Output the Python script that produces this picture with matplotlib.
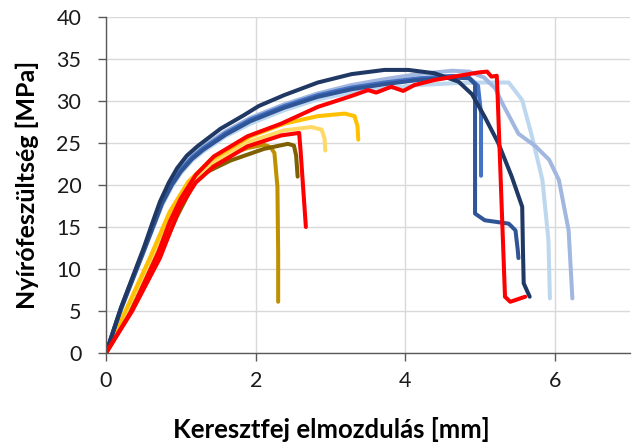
import matplotlib
matplotlib.use("Agg")
import matplotlib.pyplot as plt

# ---- data (displacement mm, shear stress MPa) ----
navy_x = [0, 0.2, 0.5, 0.62, 0.72, 0.84, 0.95, 1.08, 1.22, 1.53, 1.84, 2.04, 2.38, 2.83,
          3.28, 3.72, 4.04, 4.39, 4.71, 4.89, 5.06, 5.24, 5.42, 5.56, 5.57, 5.58, 5.66]
navy_y = [0, 5.4, 12.4, 15.5, 18.0, 20.3, 22.0, 23.5, 24.6, 26.7, 28.3, 29.4, 30.7, 32.2,
          33.2, 33.7, 33.7, 33.3, 32.3, 30.8, 28.1, 25.0, 21.0, 17.4, 12.3, 8.3, 6.7]

b2_x = [0, 0.2, 0.5, 0.75, 0.88, 1.0, 1.15, 1.3, 1.6, 1.93, 2.38, 2.83, 3.28, 3.72, 4.17,
        4.62, 4.85, 4.93, 4.93, 5.06, 5.38, 5.47, 5.50, 5.51]
b2_y = [0, 5.2, 12.0, 17.8, 20.0, 21.6, 23.1, 24.2, 26.0, 27.6, 29.2, 30.5, 31.4, 32.0, 32.5,
        32.8, 32.7, 32.0, 16.6, 15.8, 15.4, 14.6, 12.3, 11.3]

b3_x = [0, 0.2, 0.5, 0.75, 0.88, 1.0, 1.15, 1.3, 1.6, 1.93, 2.38, 2.83, 3.28, 3.72, 4.17,
        4.62, 4.85, 4.97, 5.01, 5.01]
b3_y = [0, 5.3, 12.2, 18.0, 20.2, 21.8, 23.3, 24.4, 26.2, 27.8, 29.4, 30.7, 31.6, 32.2, 32.7,
        33.0, 32.8, 31.8, 28.5, 21.1]

b4_x = [0, 0.2, 0.5, 0.75, 0.88, 1.0, 1.15, 1.3, 1.6, 1.93, 2.38, 2.83, 3.28, 3.72, 4.17,
        4.62, 4.85, 5.05, 5.2, 5.29, 5.51, 5.74, 5.92, 6.05, 6.18, 6.23]
b4_y = [0, 5.4, 12.4, 18.2, 20.4, 22.0, 23.5, 24.6, 26.4, 28.0, 29.6, 30.9, 31.9, 32.6, 33.2,
        33.6, 33.5, 32.8, 31.5, 29.8, 26.1, 24.6, 23.0, 20.6, 14.6, 6.5]

b5_x = [0, 0.2, 0.5, 0.75, 0.88, 1.0, 1.15, 1.3, 1.6, 1.93, 2.38, 2.83, 3.28, 3.72, 4.17,
        4.62, 5.0, 5.38, 5.56, 5.69, 5.83, 5.91, 5.93]
b5_y = [0, 5.2, 12.0, 17.6, 19.8, 21.4, 22.9, 24.0, 25.8, 27.3, 28.9, 30.2, 31.0, 31.5, 31.9,
        32.1, 32.2, 32.2, 30.1, 25.8, 20.6, 13.5, 6.5]

red1_x = [0, 0.34, 0.7, 0.85, 1.0, 1.2, 1.44, 1.89, 2.34, 2.83, 3.28, 3.5, 3.61, 3.81, 3.97,
          4.12, 4.39, 4.71, 4.98, 5.09, 5.15, 5.22, 5.23, 5.33, 5.4, 5.6]
red1_y = [0, 5.0, 12.0, 15.6, 18.4, 21.2, 23.4, 25.8, 27.3, 29.3, 30.6, 31.3, 31.0, 31.7,
          31.2, 31.9, 32.5, 33.0, 33.4, 33.5, 32.9, 33.0, 31.0, 6.7, 6.1, 6.7]

red2_x = [0, 0.35, 0.72, 0.99, 1.2, 1.44, 1.89, 2.34, 2.58, 2.6, 2.67]
red2_y = [0, 5.0, 11.3, 17.4, 20.3, 22.2, 24.6, 25.9, 26.2, 24.0, 15.0]

olive_x = [0, 0.33, 0.68, 0.95, 1.22, 1.66, 2.11, 2.43, 2.51, 2.54, 2.56]
olive_y = [0, 5.0, 11.0, 16.3, 21.0, 22.9, 24.3, 24.9, 24.7, 23.5, 21.0]

goldenrod_x = [0, 0.3, 0.63, 0.9, 1.2, 1.44, 1.66, 1.89, 2.11, 2.2, 2.25, 2.29, 2.30, 2.30]
goldenrod_y = [0, 5.0, 11.2, 16.5, 20.8, 22.6, 23.7, 24.4, 24.8, 24.5, 23.8, 19.8, 11.9, 6.1]

gold_x = [0, 0.27, 0.59, 0.85, 1.1, 1.4, 1.93, 2.38, 2.83, 3.19, 3.32, 3.36, 3.37]
gold_y = [0, 5.2, 11.4, 16.8, 20.4, 23.0, 25.8, 27.3, 28.2, 28.5, 28.2, 27.0, 25.4]

lgold_x = [0, 0.28, 0.6, 0.87, 1.12, 1.4, 1.93, 2.38, 2.74, 2.88, 2.92, 2.93]
lgold_y = [0, 5.1, 11.2, 16.6, 20.2, 22.6, 25.2, 26.5, 26.9, 26.6, 25.5, 24.1]

x_ticks = [0, 2, 4, 6]
y_ticks = [0, 5, 10, 15, 20, 25, 30, 35, 40]

plt.rcParams['font.family'] = ['Lato', 'DejaVu Sans']

fig = plt.figure(figsize=(6.36, 4.45), dpi=100)
ax = fig.add_axes([106 / 636, 1 - 353 / 445, 524 / 636, 336 / 445])

style = dict(lw=2.9, solid_joinstyle='round', solid_capstyle='round')
ax.plot(goldenrod_x, goldenrod_y, color='#BF9000', **style)
ax.plot(olive_x, olive_y, color='#7F6000', **style)
ax.plot(lgold_x, lgold_y, color='#FFD966', **style)
ax.plot(gold_x, gold_y, color='#FFC000', **style)
ax.plot(b5_x, b5_y, color='#BDD7EE', **style)
ax.plot(b4_x, b4_y, color='#A2B7E0', **style)
ax.plot(b3_x, b3_y, color='#4472C4', **style)
ax.plot(b2_x, b2_y, color='#2F5597', **style)
ax.plot(navy_x, navy_y, color='#203864', **style)
ax.plot(red2_x, red2_y, color='#FF0000', **style)
ax.plot(red1_x, red1_y, color='#FF0000', **style)

ax.set_xlim(0, 7)
ax.set_ylim(0, 40)
ax.set_xticks(x_ticks)
ax.set_yticks(y_ticks)
ax.grid(True, color='#D9D9D9', lw=1)
ax.set_axisbelow(True)
for s in ['top', 'right']:
    ax.spines[s].set_visible(False)
for s in ['left', 'bottom']:
    ax.spines[s].set_color('#595959')
    ax.spines[s].set_linewidth(1)
ax.tick_params(axis='both', direction='out', length=5.8, width=1, color='#595959',
               labelsize=15.5, labelcolor='#1a1a1a')
ax.tick_params(axis='y', pad=12)
ax.tick_params(axis='x', pad=7)

ax.set_xlabel('Keresztfej elmozdulás [mm]', fontsize=18.5, fontweight='bold')
ax.set_ylabel('Nyírófeszültség [MPa]', fontsize=18, fontweight='bold')
ax.xaxis.set_label_coords(0.43, -0.229)
ax.yaxis.set_label_coords(-0.151, 0.5)
ax.xaxis.label.set_va('center')
ax.yaxis.label.set_va('center')

fig.savefig('out.png', dpi=100)
